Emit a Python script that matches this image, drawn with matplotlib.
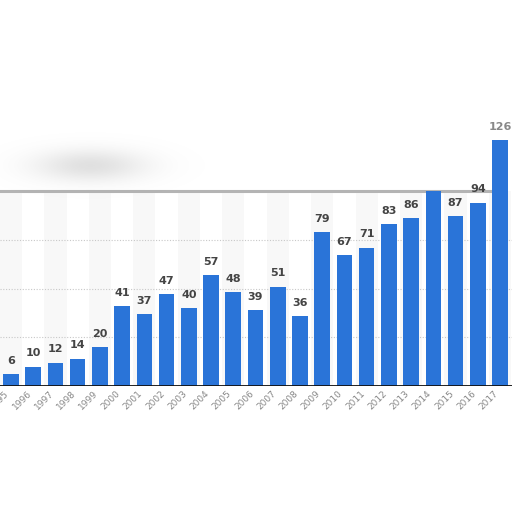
import matplotlib
matplotlib.use('Agg')
import matplotlib.pyplot as plt
import numpy as np

# years and values
years = ['1995', '1996', '1997', '1998', '1999', '2000', '2001', '2002', '2003',
         '2004', '2005', '2006', '2007', '2008', '2009', '2010', '2011', '2012',
         '2013', '2014', '2015', '2016', '2017']
values = [6, 10, 12, 14, 20, 41, 37, 47, 40, 57, 48, 39, 51, 36, 79, 67, 71, 83,
          86, 100, 87, 94, 126]
# 2014 label is hidden in the picture
show_label = [True] * len(values)
show_label[19] = False

bar_color = '#2a74d8'

fig = plt.figure(figsize=(5.12, 5.12), dpi=100)
ax = fig.add_axes([0, 0.246, 1, 0.754])

x = np.arange(len(years))

# faint alternating background columns (only under the top line)
for i in x[::2]:
    ax.fill_between([i - 0.5, i + 0.5], 0, 100, color='#f8f8f8', zorder=0, lw=0)

# grid lines
for g in [25, 50, 75]:
    ax.axhline(g, color='#c8c8c8', ls=(0, (1, 1.5)), lw=0.8, zorder=1)
ax.axhline(100, color='#b4b4b4', lw=2.2, zorder=1, xmax=0.96)

ax.bar(x, values, width=0.7, color=bar_color, zorder=2)
ax.axhline(0, color='#111111', lw=1.3, zorder=3)

for xi, v, s in zip(x, values, show_label):
    if not s:
        continue
    col = '#888888' if v > 110 else '#444444'
    ax.annotate(str(v), (xi, v), xytext=(0, 6), textcoords='offset points',
                ha='center', va='bottom', fontsize=8, fontweight='bold',
                color=col, zorder=4)

ax.set_xlim(-0.495, 22.54)
ax.set_ylim(0, 198)
ax.set_xticks(x)
ax.set_xticklabels(years, rotation=45, ha='right', va='top',
                   fontsize=6.5, color='#888888')
ax.tick_params(axis='x', length=0, pad=2)
ax.set_yticks([])
for sp in ax.spines.values():
    sp.set_visible(False)

# soft grey smudge at the upper left, fading out before its edges
yy, xx = np.mgrid[0:120, 0:260]
blob = np.exp(-(((xx - 100) / 55.0) ** 2) - (((yy - 60) / 16.0) ** 2))
rgba = np.zeros((120, 260, 4))
rgba[..., :3] = 0.6
rgba[..., 3] = blob * 0.3
fig.figimage(rgba, xo=-10, yo=512 - 225, zorder=5)

fig.savefig('out.png', dpi=100)
